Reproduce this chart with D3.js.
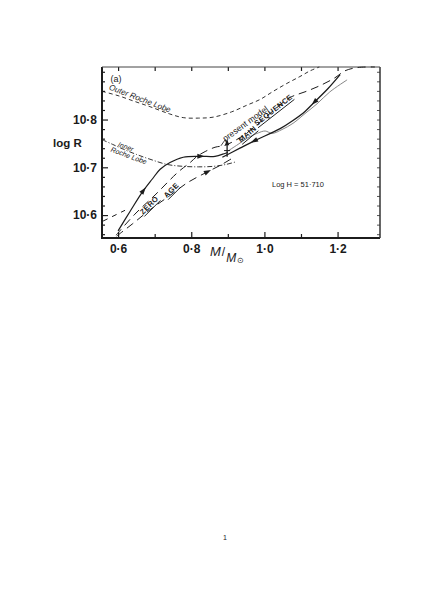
<!DOCTYPE html>
<html><head><meta charset="utf-8">
<script src="https://cdn.jsdelivr.net/npm/d3@7"></script>
<style>
html,body{margin:0;padding:0;background:#fff;}
svg{display:block;}
text{font-family:"Liberation Sans",Arial,sans-serif;fill:#1a1a1a;-webkit-font-smoothing:antialiased;}
</style></head>
<body>
<svg id="chart" width="436" height="616"></svg>
<script>
// ---------- data (mass M/Msun, log R) ----------
const xTicks = [0.6, 0.8, 1.0, 1.2];
const xMinorTicks = [0.7, 0.9, 1.1];
const yTicks = [10.6, 10.7, 10.8];
const yMinorTicks = [10.56, 10.58, 10.62, 10.64, 10.66, 10.68, 10.72, 10.74, 10.76, 10.78, 10.82, 10.84, 10.86, 10.88, 10.90];

const outerLobe = [[0.556,10.859],[0.60,10.850],[0.645,10.838],[0.687,10.827],[0.74,10.812],[0.778,10.804],[0.82,10.803],[0.86,10.805],[0.91,10.816],[0.952,10.830],[0.988,10.842],[1.024,10.859],[1.06,10.875],[1.097,10.890],[1.125,10.902],[1.15,10.910]];
const innerLobe = [[0.556,10.758],[0.585,10.748],[0.614,10.738],[0.65,10.727],[0.687,10.717],[0.734,10.706],[0.778,10.702],[0.82,10.701],[0.86,10.702],[0.895,10.706],[0.92,10.711]];
const trackIn = [[0.600,10.567],[0.633,10.608],[0.668,10.650],[0.693,10.675],[0.715,10.696],[0.742,10.710],[0.778,10.721],[0.824,10.723],[0.865,10.723],[0.892,10.729],[0.900,10.731]];
const trackBack = [[1.207,10.894],[1.174,10.865],[1.138,10.8375],[1.111,10.817],[1.078,10.798],[1.043,10.781],[0.974,10.756],[0.933,10.740],[0.885,10.721]];
const humpTrack = [[0.898,10.733],[0.928,10.748],[0.955,10.762],[0.983,10.772],[1.002,10.776],[1.021,10.771],[1.048,10.779],[1.078,10.792],[1.111,10.8125],[1.144,10.833],[1.179,10.858],[1.226,10.883]];
const dashUpper = [[0.5945,10.558],[0.646,10.602],[0.701,10.642],[0.764,10.690],[0.797,10.710],[0.816,10.723],[0.838,10.733],[0.865,10.742],[0.892,10.746],[0.933,10.762],[0.974,10.785],[1.015,10.8125],[1.070,10.846],[1.111,10.858],[1.152,10.871],[1.193,10.8875],[1.220,10.902],[1.256,10.909],[1.302,10.910]];
const dashLower = [[0.596,10.556],[0.64,10.582],[0.687,10.611],[0.74,10.640],[0.79,10.668],[0.843,10.690],[0.879,10.704],[0.91,10.718]];
const dashFragment = [[0.559,10.5875],[0.619,10.610]];
const presentArrow = [[0.898,10.722],[0.898,10.751]];
const pointerA = [[0.893,10.758],[0.881,10.745]];
const pointerB = [[0.893,10.758],[0.897,10.750]];
// arrows: [series, index of point, index of point it points to]
const arrowMarks = [["trackIn",2,3],["trackIn",7,8],["trackBack",2,3],["trackBack",6,7],["dashLower",5,6]];

// ---------- scales ----------
const svg = d3.select("#chart");
const x = d3.scaleLinear().domain([0.556, 1.316]).range([102, 380]);
const y = d3.scaleLinear().domain([10.552, 10.910]).range([238, 67]);
const ink = "#1c1c1c";

const line = d3.line().x(d => x(d[0])).y(d => y(d[1])).curve(d3.curveCatmullRom.alpha(0.5));
const straight = d3.line().x(d => x(d[0])).y(d => y(d[1]));

function path(data, opts, gen) {
  svg.append("path").datum(data).attr("d", (gen || line))
    .attr("fill", "none").attr("stroke", opts.color || ink)
    .attr("stroke-width", opts.w || 1)
    .attr("stroke-dasharray", opts.dash || null)
    .attr("stroke-linecap", "butt");
}

// ---------- frame & axes ----------
const fmt = d => d3.format(".1f")(d).replace(".", "·");
const gB = svg.append("g").attr("transform", `translate(0,${y.range()[0]})`)
  .call(d3.axisBottom(x).tickValues(xTicks).tickSize(-6).tickPadding(6).tickFormat(fmt));
const gBm = svg.append("g").attr("transform", `translate(0,${y.range()[0]})`)
  .call(d3.axisBottom(x).tickValues(xMinorTicks).tickSize(-4).tickFormat(""));
const gT = svg.append("g").attr("transform", `translate(0,${y.range()[1]})`)
  .call(d3.axisTop(x).tickValues(xTicks.concat(xMinorTicks)).tickSize(-4).tickFormat(""));
const gL = svg.append("g").attr("transform", `translate(${x.range()[0]},0)`)
  .call(d3.axisLeft(y).tickValues(yTicks).tickSize(-6).tickPadding(5).tickFormat(fmt));
const gLm = svg.append("g").attr("transform", `translate(${x.range()[0]},0)`)
  .call(d3.axisLeft(y).tickValues(yMinorTicks).tickSize(-3).tickFormat(""));
const gR = svg.append("g").attr("transform", `translate(${x.range()[1]},0)`)
  .call(d3.axisRight(y).tickValues(yTicks.concat(yMinorTicks)).tickSize(-3).tickFormat(""));
[gB, gBm, gT, gL, gLm, gR].forEach(g => {
  g.select(".domain").remove();
  g.selectAll("line").attr("stroke", ink).attr("stroke-width", 1.2);
  g.selectAll("text").attr("font-size", 12).attr("font-weight", "bold").attr("fill", ink)
    .attr("font-family", "'DejaVu Sans',sans-serif");
});
gR.selectAll("line").attr("stroke", "#555").attr("stroke-width", 1);

// frame lines
const [x0, x1] = x.range(), [yb, yt] = y.range();
svg.append("line").attr("x1", x0).attr("x2", x0).attr("y1", yt).attr("y2", yb + 1).attr("stroke", ink).attr("stroke-width", 2);
svg.append("line").attr("x1", x0).attr("x2", x1).attr("y1", yb).attr("y2", yb).attr("stroke", ink).attr("stroke-width", 2);
svg.append("line").attr("x1", x1).attr("x2", x1).attr("y1", yt).attr("y2", yb).attr("stroke", "#333").attr("stroke-width", 1.5);
svg.append("line").attr("x1", x0).attr("x2", x1).attr("y1", yt).attr("y2", yt).attr("stroke", "#444").attr("stroke-width", 1);

// ---------- curves ----------
path(outerLobe, {dash: "4,3", w: 0.9});
path(innerLobe, {dash: "5,2,1,2", w: 0.9});
path(dashUpper, {dash: "8,5", w: 1});
path(dashLower, {dash: "8,5", w: 1});
path(dashFragment, {dash: "5,5", w: 1}, straight);
path(humpTrack, {w: 0.9, color: "#777"});
path(trackIn, {w: 1.2});
path(trackBack, {w: 1.3});
path(presentArrow, {w: 1.3}, straight);
path(pointerA, {w: 0.8}, straight);
path(pointerB, {w: 0.8}, straight);

// arrowheads
const seriesMap = {trackIn, trackBack, dashLower};
function arrowHead(px, py, ang, size) {
  const s = size || 5;
  const p = [[s, 0], [-s * 0.6, -s * 0.55], [-s * 0.6, s * 0.55]];
  svg.append("path")
    .attr("d", "M" + p.map(q => q.join(",")).join("L") + "Z")
    .attr("transform", `translate(${px},${py}) rotate(${ang})`)
    .attr("fill", ink);
}
arrowMarks.forEach(([name, i, j]) => {
  const s = seriesMap[name];
  const ax = x(s[i][0]), ay = y(s[i][1]), bx = x(s[j][0]), by = y(s[j][1]);
  arrowHead(ax, ay, Math.atan2(by - ay, bx - ax) * 180 / Math.PI, 4.5);
});
arrowHead(x(presentArrow[1][0]), y(presentArrow[1][1]), -90, 4);
// crossbar on present model marker
svg.append("line").attr("x1", x(presentArrow[0][0]) - 3).attr("x2", x(presentArrow[0][0]) + 3)
  .attr("y1", y(10.735)).attr("y2", y(10.735)).attr("stroke", ink).attr("stroke-width", 1);

// ---------- labels ----------
function label(txt, cx, cy, rot, size, opts) {
  opts = opts || {};
  const g = svg.append("g").attr("transform", `translate(${cx},${cy}) rotate(${rot})`);
  const t = g.append("text").attr("text-anchor", "middle").attr("font-size", size)
    .attr("font-weight", opts.bold ? "bold" : "normal")
    .attr("font-family", opts.family || "'DejaVu Sans',sans-serif")
    .attr("font-style", opts.italic ? "italic" : "normal")
    .attr("letter-spacing", opts.ls || 0)
    .attr("fill", opts.color || ink).text(txt);
  if (opts.under) {
    const w = t.node().getComputedTextLength();
    g.append("line").attr("x1", -w / 2).attr("x2", w / 2).attr("y1", 2).attr("y2", 2)
      .attr("stroke", ink).attr("stroke-width", 0.9);
  }
  return g;
}
label("(a)", 116, 82, 0, 9);
label("Outer Roche Lobe", 139, 101, 21, 8, {italic: true});
label("Inner", 125, 149, 20, 7, {italic: true});
label("Roche Lobe", 128, 158, 20, 7, {italic: true});
label("present model", 247, 126, -36, 8.5);
label("MAIN", 249, 136, -40, 7.5, {bold: true, under: true, ls: 0.5});
label("SEQUENCE", 275, 112, -38, 7.5, {bold: true, under: true, ls: 0.5});
label("ZERO", 151, 207, -45, 7.5, {bold: true, under: true, ls: 0.5});
label("AGE", 173, 192, -45, 7.5, {bold: true, under: true, ls: 0.5});
svg.append("text").attr("x", 272).attr("y", 187).attr("font-size", 7.5)
  .attr("font-family", "'DejaVu Sans',sans-serif").attr("fill", ink).text("Log H = 51·710");

// axis titles
svg.append("text").attr("x", 53).attr("y", 147).attr("font-size", 11.5).attr("font-weight", "bold")
  .attr("font-family", "'DejaVu Sans',sans-serif").attr("fill", ink).text("log R");
const xl = svg.append("text").attr("x", 210).attr("y", 256).attr("font-size", 13)
  .attr("font-family", "'DejaVu Sans',sans-serif").attr("fill", ink);
xl.append("tspan").attr("font-style", "italic").text("M");
xl.append("tspan").attr("font-size", 12).attr("dx", 1).text("/");
xl.append("tspan").attr("font-style", "italic").attr("font-size", 12).attr("dx", 1).attr("dy", 6).text("M");
xl.append("tspan").attr("font-size", 8).attr("dx", 0.5).attr("dy", 1).text("⊙");

// page number
svg.append("text").attr("x", 225).attr("y", 540).attr("text-anchor", "middle").attr("font-size", 7)
  .attr("font-family", "'Liberation Serif',serif").attr("fill", "#666").text("1");
</script>
</body></html>
